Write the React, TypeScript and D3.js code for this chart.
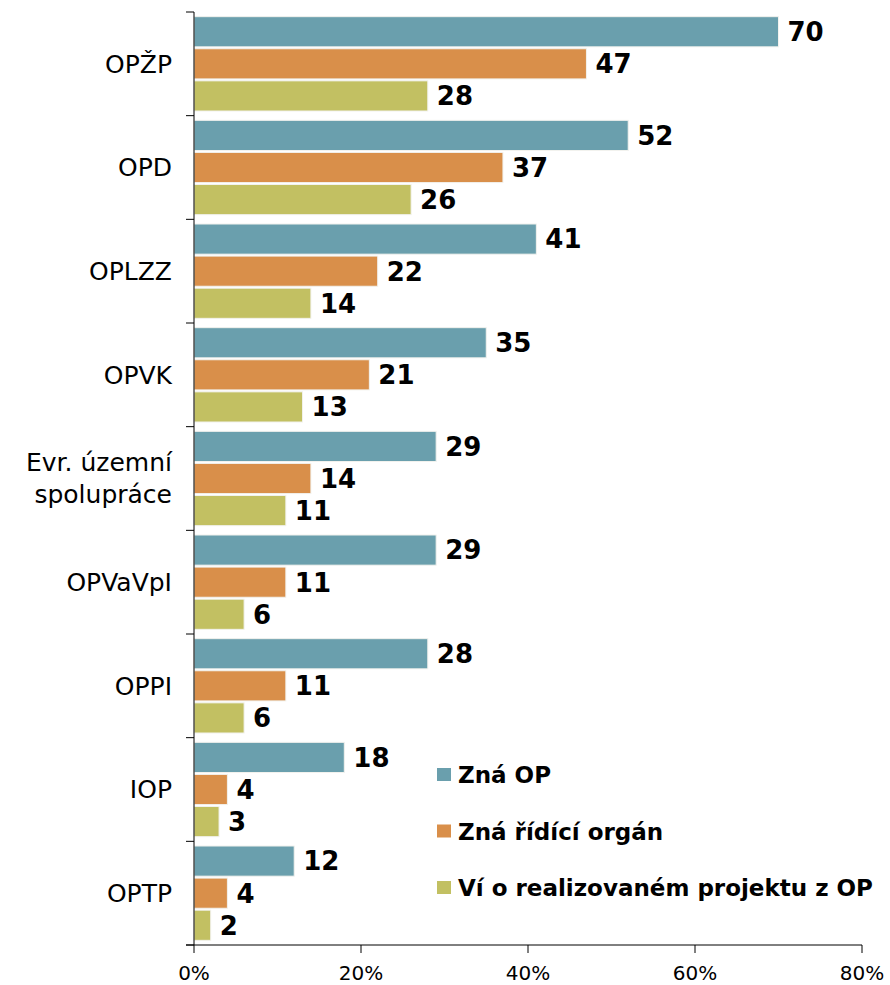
import React from 'react';
import * as d3 from 'd3';

const categories = ['OPŽP', 'OPD', 'OPLZZ', 'OPVK', 'Evr. územní spolupráce', 'OPVaVpI', 'OPPI', 'IOP', 'OPTP'];
const seriesNames = ['Zná OP', 'Zná řídící orgán', 'Ví o realizovaném projektu z OP'];
const znaOP = [70, 52, 41, 35, 29, 29, 28, 18, 12];
const znaRO = [47, 37, 22, 21, 14, 11, 11, 4, 4];
const viOProjektu = [28, 26, 14, 13, 11, 6, 6, 3, 2];
const tickValues = [0, 20, 40, 60, 80];
const colors = ['#6a9fad', '#d98f4a', '#c2c062'];

// label lines for the long category name
const labelLines: Record<string, string[]> = {
  'Evr. územní spolupráce': ['Evr. územní', 'spolupráce'],
};

const W = 890;
const H = 985;
const margin = { top: 12, right: 28, bottom: 40, left: 194 };

export default function App() {
  const innerW = W - margin.left - margin.right;
  const innerH = H - margin.top - margin.bottom;
  const font = '"DejaVu Sans", Verdana, sans-serif';

  const x = d3.scaleLinear().domain([0, 80]).range([0, innerW]);
  const y = d3.scaleBand<string>().domain(categories).range([0, innerH]).paddingInner(0).paddingOuter(0);
  const inner = d3
    .scaleBand<number>()
    .domain([0, 1, 2])
    .range([y.bandwidth() * 0.045, y.bandwidth() * 0.955])
    .paddingInner(0.06);

  const series = [znaOP, znaRO, viOProjektu];
  const boundaries = d3.range(categories.length + 1).map((i) => i * y.step());

  return (
    <svg width={W} height={H} style={{ position: 'absolute', left: 0, top: 0, background: '#fff' }}>
      <g transform={`translate(${margin.left},${margin.top})`}>
        {categories.map((c, ci) => (
          <g key={c} transform={`translate(0,${y(c)})`}>
            {series.map((vals, si) => {
              const v = vals[ci];
              const by = inner(si)!;
              const bh = inner.bandwidth();
              return (
                <g key={si}>
                  <rect
                    x={0}
                    y={by}
                    width={x(v)}
                    height={bh}
                    fill={colors[si]}
                    stroke="#f2f2ee"
                    strokeWidth={1}
                  />
                  <text
                    x={x(v) + 9}
                    y={by + bh / 2}
                    dy="0.36em"
                    fontFamily={font}
                    fontWeight="bold"
                    fontSize={26}
                    fill="#000"
                  >
                    {v}
                  </text>
                </g>
              );
            })}
            {(() => {
              const lines = labelLines[c] ?? [c];
              const cy = y.bandwidth() / 2;
              const lh = 32;
              return (
                <text x={-22} textAnchor="end" fontFamily={font} fontSize={25} fill="#000">
                  {lines.map((l, li) => (
                    <tspan key={li} x={-22} y={cy + (li - (lines.length - 1) / 2) * lh} dy="0.36em">
                      {l}
                    </tspan>
                  ))}
                </text>
              );
            })()}
          </g>
        ))}

        {/* vertical axis */}
        <line x1={0} x2={0} y1={0} y2={innerH} stroke="#000" strokeWidth={1} />
        {boundaries.map((b, i) => (
          <line key={i} x1={-8} x2={0} y1={b} y2={b} stroke="#000" strokeWidth={1} />
        ))}

        {/* horizontal axis */}
        <line x1={-8} x2={innerW} y1={innerH} y2={innerH} stroke="#000" strokeWidth={1} />
        {tickValues.map((t) => (
          <g key={t} transform={`translate(${x(t)},${innerH})`}>
            <line y1={0} y2={8} stroke="#000" strokeWidth={1} />
            <text y={35} textAnchor="middle" fontFamily={font} fontSize={20} fill="#000">
              {t}%
            </text>
          </g>
        ))}

        {/* legend */}
        <g transform="translate(243,756)">
          {seriesNames.map((s, i) => (
            <g key={s} transform={`translate(0,${i * 56.5})`}>
              <rect x={0} y={0} width={14} height={13} fill={colors[i]} />
              <text x={21} y={15} fontFamily={font} fontWeight="bold" fontSize={23} fill="#000">
                {s}
              </text>
            </g>
          ))}
        </g>
      </g>
    </svg>
  );
}
